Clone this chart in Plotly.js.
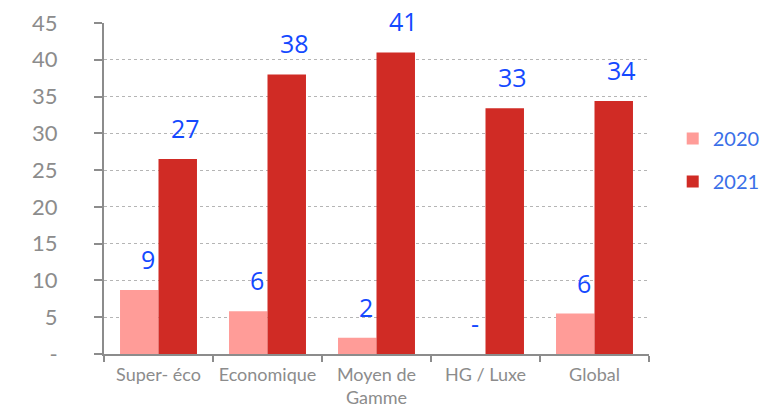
<!DOCTYPE html>
<html>
<head>
<meta charset="utf-8">
<script src="https://cdn.plot.ly/plotly-3.0.1.min.js"></script>
<style>html,body{margin:0;padding:0;background:#fff;}#chart{width:777px;height:410px;}</style>
</head>
<body>
<div id="chart"></div>
<script>
const categories = ['Super- éco', 'Economique', 'Moyen de<br>Gamme', 'HG / Luxe', 'Global'];
const values2020 = [8.7, 5.8, 2.2, 0, 5.5];
const values2021 = [26.5, 38.0, 41.0, 33.4, 34.4];
const seriesNames = ['2020', '2021'];
const yTickVals = [0, 5, 10, 15, 20, 25, 30, 35, 40, 45];
const yTickText = ['-', '5', '10', '15', '20', '25', '30', '35', '40', '45'];

const colors = ['#FF9C98', '#D02B25'];
const labelColor = '#1449FF';

const traces = [values2020, values2021].map((vals, s) => ({
  type: 'bar',
  name: seriesNames[s],
  x: categories,
  y: vals,
  marker: {color: colors[s]},
  legendgroup: 'g' + s,
  hoverinfo: 'x+y'
}));

const annotations = [];
[values2020, values2021].forEach((vals, s) => {
  vals.forEach((v, i) => {
    annotations.push({
      x: categories[i], y: v, xref: 'x', yref: 'y',
      text: v === 0 ? '-' : String(Math.round(v)),
      showarrow: false,
      xshift: (s === 0 ? -19 : 19) + 8,
      yshift: 31,
      yanchor: 'middle',
      font: {family: 'Open Sans, sans-serif', size: 25, color: labelColor}
    });
  });
});

const layout = {
  width: 777, height: 410,
  margin: {l: 104, r: 126, t: 23, b: 56},
  paper_bgcolor: '#ffffff', plot_bgcolor: '#ffffff',
  barmode: 'group', bargap: 0.294, bargroupgap: 0,
  showlegend: true,
  legend: {
    x: 1.0435, y: 0.586, xanchor: 'left', yanchor: 'middle',
    font: {family: 'Lato, sans-serif', size: 20, color: '#3A6FE8'},
    tracegroupgap: 14, traceorder: 'grouped',
    bgcolor: 'rgba(0,0,0,0)'
  },
  xaxis: {
    type: 'category',
    showline: true, linecolor: '#8C8C8C', linewidth: 2,
    ticks: 'outside', ticklen: 6, tickcolor: '#8C8C8C', tickwidth: 2,
    tickson: 'boundaries',
    tickangle: 0,
    ticklabelstandoff: 3,
    showgrid: false,
    tickfont: {family: 'Lato, sans-serif', size: 18, color: '#8C8C8C'},
    fixedrange: true
  },
  yaxis: {
    range: [0, 45],
    tickvals: yTickVals, ticktext: yTickText,
    showline: true, linecolor: '#8C8C8C', linewidth: 2,
    ticks: 'outside', ticklen: 8, tickcolor: '#8C8C8C', tickwidth: 2,
    ticklabelstandoff: 32,
    showgrid: true, gridcolor: '#B5B5B5', griddash: 'dot', gridwidth: 1,
    zeroline: false,
    tickfont: {family: 'Lato, sans-serif', size: 22, color: '#8C8C8C'},
    fixedrange: true
  },
  annotations: annotations
};

Plotly.newPlot('chart', traces, layout, {displayModeBar: false, staticPlot: true});
</script>
</body>
</html>
